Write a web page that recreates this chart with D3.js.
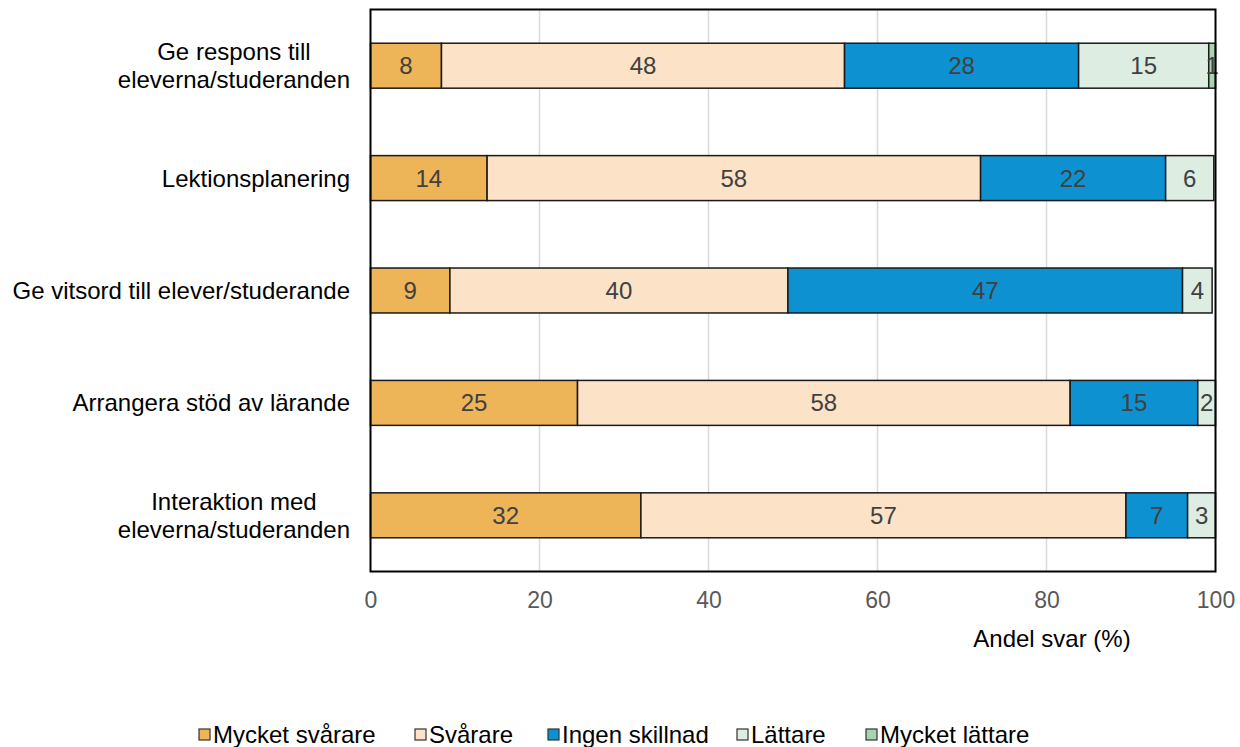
<!DOCTYPE html>
<html><head><meta charset="utf-8">
<script src="https://cdn.jsdelivr.net/npm/d3@7"></script>
<style>body{margin:0;background:#fff}svg{display:block}text{font-family:"Liberation Sans",Arial,sans-serif}</style>
</head><body><svg id="c" width="1240" height="747"></svg>
<script>
const categories = [
  ["Ge respons till","eleverna/studeranden"],
  ["Lektionsplanering"],
  ["Ge vitsord till elever/studerande"],
  ["Arrangera stöd av lärande"],
  ["Interaktion med","eleverna/studeranden"]
];
const seriesNames = ["Mycket svårare","Svårare","Ingen skillnad","Lättare","Mycket lättare"];
const colors = ["#EDB458","#FCE2C6","#0E91D0","#DDEDE1","#A8D5B0"];
const mycketSvarare = [8.4, 13.8, 9.4, 24.5, 32.0];
const svarare       = [47.7, 58.4, 40.0, 58.3, 57.4];
const ingenSkillnad = [27.7, 21.9, 46.7, 15.1, 7.3];
const lattare       = [15.4, 5.7, 3.5, 2.1, 3.3];
const mycketLattare = [0.8, 0.0, 0.0, 0.0, 0.0];
const xTicks = [0,20,40,60,80,100];
const xTitle = "Andel svar (%)";

const series = [mycketSvarare, svarare, ingenSkillnad, lattare, mycketLattare];
const svg = d3.select("#c");
const L=370.5, R=1215.5, T=9.5, B=571.5;
const FS = 24;
const x = d3.scaleLinear().domain([0,100]).range([L,R]);
const y = d3.scaleBand().domain(d3.range(categories.length)).range([T,B]).paddingInner(0.6).paddingOuter(0.3);

// gridlines
svg.append("g").selectAll("line").data(xTicks.slice(1,-1)).join("line")
  .attr("x1",d=>x(d)).attr("x2",d=>x(d)).attr("y1",T).attr("y2",B)
  .attr("stroke","#d9d9d9").attr("stroke-width",1.5);

// bars
const rows = categories.map((c,i)=>{
  let acc=0;
  return series.map((s,j)=>{const v=s[i]; const o={i,j,x0:acc,x1:acc+v,v}; acc+=v; return o;});
});
const g = svg.append("g");
rows.flat().filter(d=>d.v>0).forEach(d=>{
  g.append("rect").attr("x",x(d.x0)).attr("y",y(d.i)).attr("width",x(d.x1)-x(d.x0)).attr("height",y.bandwidth())
   .attr("fill",colors[d.j]).attr("stroke","#1a1a1a").attr("stroke-width",1.5);
});
rows.flat().filter(d=>d.v>0).forEach(d=>{
  g.append("text").attr("x",(x(d.x0)+x(d.x1))/2).attr("y",y(d.i)+y.bandwidth()/2).attr("dy","0.35em")
   .attr("text-anchor","middle").attr("font-size",FS).attr("fill","#404040").text(Math.round(d.v));
});

// frame
svg.append("rect").attr("x",L).attr("y",T).attr("width",R-L).attr("height",B-T)
  .attr("fill","none").attr("stroke","#000").attr("stroke-width",2);

// x axis tick labels
const xAxis = d3.axisBottom(x).tickValues(xTicks).tickSize(0).tickPadding(20);
const ax = svg.append("g").attr("transform",`translate(0,${B})`).call(xAxis);
ax.select(".domain").remove();
ax.selectAll("text").attr("font-size",23).attr("fill","#595959").attr("font-family","Liberation Sans, Arial, sans-serif");

svg.append("text").attr("x",1052).attr("y",647).attr("text-anchor","middle").attr("font-size",FS).attr("fill","#000").text(xTitle);

// y labels
const yl = svg.append("g");
categories.forEach((lines,i)=>{
  const cy = y(i)+y.bandwidth()/2;
  const t = yl.append("text").attr("text-anchor","middle").attr("font-size",FS).attr("fill","#000");
  const spans = lines.map((ln,k)=>t.append("tspan").attr("y",cy+(k-(lines.length-1)/2)*28).attr("dy","0.35em").text(ln));
  const w = d3.max(spans, s=>s.node().getComputedTextLength());
  spans.forEach(s=>s.attr("x",350 - w/2));
});

// legend
const legX=[199,415,548,737,866];
const lg = svg.append("g");
seriesNames.forEach((n,j)=>{
  lg.append("rect").attr("x",legX[j]).attr("y",729).attr("width",11).attr("height",11)
    .attr("fill",colors[j]).attr("stroke","#333").attr("stroke-width",1.2);
  lg.append("text").attr("x",legX[j]+14).attr("y",743).attr("font-size",FS).attr("fill","#000").text(n);
});
</script></body></html>
